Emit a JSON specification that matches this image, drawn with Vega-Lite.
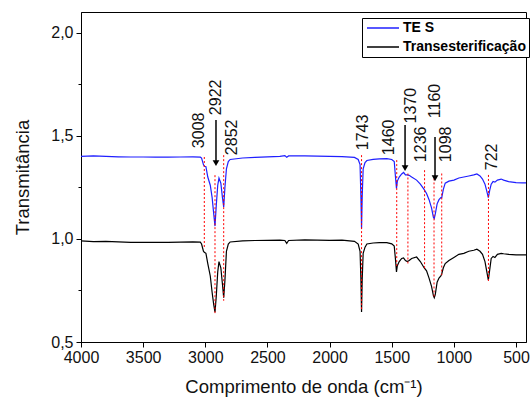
{
  "$schema": "https://vega.github.io/schema/vega-lite/v6.json",
  "width": 445,
  "height": 330,
  "autosize": {"type": "none"},
  "padding": {"left": 81, "top": 12, "right": 5, "bottom": 57},
  "config": {
    "view": {"stroke": "#000", "strokeWidth": 1},
    "font": "Liberation Sans",
    "axis": {
      "domainColor": "#000", "tickColor": "#000", "labelColor": "#111", "titleColor": "#111",
      "labelFont": "Liberation Sans", "titleFont": "Liberation Sans",
      "labelFontSize": 16, "titleFontSize": 18.5, "titleFontWeight": "normal",
      "grid": false
    }
  },
  "datasets": {
    "spectra": [
      {"series": "TE S", "wn": 4000, "t": 1.400}, {"series": "TE S", "wn": 3900, "t": 1.402}, {"series": "TE S", "wn": 3800, "t": 1.400},
      {"series": "TE S", "wn": 3700, "t": 1.398}, {"series": "TE S", "wn": 3600, "t": 1.397}, {"series": "TE S", "wn": 3500, "t": 1.397},
      {"series": "TE S", "wn": 3400, "t": 1.396}, {"series": "TE S", "wn": 3300, "t": 1.396}, {"series": "TE S", "wn": 3200, "t": 1.397},
      {"series": "TE S", "wn": 3100, "t": 1.398}, {"series": "TE S", "wn": 3040, "t": 1.396}, {"series": "TE S", "wn": 3030, "t": 1.392},
      {"series": "TE S", "wn": 3015, "t": 1.36}, {"series": "TE S", "wn": 3008, "t": 1.352}, {"series": "TE S", "wn": 2995, "t": 1.35},
      {"series": "TE S", "wn": 2980, "t": 1.30}, {"series": "TE S", "wn": 2960, "t": 1.26}, {"series": "TE S", "wn": 2945, "t": 1.20},
      {"series": "TE S", "wn": 2932, "t": 1.12}, {"series": "TE S", "wn": 2922, "t": 1.062}, {"series": "TE S", "wn": 2912, "t": 1.16},
      {"series": "TE S", "wn": 2900, "t": 1.26}, {"series": "TE S", "wn": 2890, "t": 1.295}, {"series": "TE S", "wn": 2875, "t": 1.27},
      {"series": "TE S", "wn": 2862, "t": 1.20}, {"series": "TE S", "wn": 2852, "t": 1.155}, {"series": "TE S", "wn": 2842, "t": 1.25},
      {"series": "TE S", "wn": 2830, "t": 1.34}, {"series": "TE S", "wn": 2815, "t": 1.375}, {"series": "TE S", "wn": 2800, "t": 1.385},
      {"series": "TE S", "wn": 2700, "t": 1.392}, {"series": "TE S", "wn": 2600, "t": 1.395}, {"series": "TE S", "wn": 2500, "t": 1.398},
      {"series": "TE S", "wn": 2400, "t": 1.400}, {"series": "TE S", "wn": 2360, "t": 1.404}, {"series": "TE S", "wn": 2345, "t": 1.396},
      {"series": "TE S", "wn": 2330, "t": 1.402}, {"series": "TE S", "wn": 2200, "t": 1.402}, {"series": "TE S", "wn": 2100, "t": 1.401},
      {"series": "TE S", "wn": 2000, "t": 1.400}, {"series": "TE S", "wn": 1900, "t": 1.399}, {"series": "TE S", "wn": 1800, "t": 1.395},
      {"series": "TE S", "wn": 1770, "t": 1.385}, {"series": "TE S", "wn": 1755, "t": 1.36}, {"series": "TE S", "wn": 1748, "t": 1.20},
      {"series": "TE S", "wn": 1743, "t": 1.05}, {"series": "TE S", "wn": 1738, "t": 1.20}, {"series": "TE S", "wn": 1730, "t": 1.34},
      {"series": "TE S", "wn": 1715, "t": 1.37}, {"series": "TE S", "wn": 1700, "t": 1.38}, {"series": "TE S", "wn": 1650, "t": 1.385},
      {"series": "TE S", "wn": 1600, "t": 1.388}, {"series": "TE S", "wn": 1540, "t": 1.389}, {"series": "TE S", "wn": 1500, "t": 1.385},
      {"series": "TE S", "wn": 1480, "t": 1.375}, {"series": "TE S", "wn": 1470, "t": 1.30}, {"series": "TE S", "wn": 1462, "t": 1.245},
      {"series": "TE S", "wn": 1455, "t": 1.28}, {"series": "TE S", "wn": 1440, "t": 1.30}, {"series": "TE S", "wn": 1420, "t": 1.315},
      {"series": "TE S", "wn": 1405, "t": 1.322}, {"series": "TE S", "wn": 1390, "t": 1.31}, {"series": "TE S", "wn": 1375, "t": 1.31},
      {"series": "TE S", "wn": 1360, "t": 1.308}, {"series": "TE S", "wn": 1340, "t": 1.30}, {"series": "TE S", "wn": 1300, "t": 1.285},
      {"series": "TE S", "wn": 1270, "t": 1.265}, {"series": "TE S", "wn": 1240, "t": 1.24}, {"series": "TE S", "wn": 1220, "t": 1.22},
      {"series": "TE S", "wn": 1200, "t": 1.19}, {"series": "TE S", "wn": 1180, "t": 1.15}, {"series": "TE S", "wn": 1165, "t": 1.105},
      {"series": "TE S", "wn": 1158, "t": 1.099}, {"series": "TE S", "wn": 1150, "t": 1.12}, {"series": "TE S", "wn": 1135, "t": 1.17},
      {"series": "TE S", "wn": 1120, "t": 1.19}, {"series": "TE S", "wn": 1105, "t": 1.20}, {"series": "TE S", "wn": 1098, "t": 1.20},
      {"series": "TE S", "wn": 1085, "t": 1.24}, {"series": "TE S", "wn": 1070, "t": 1.27}, {"series": "TE S", "wn": 1040, "t": 1.28},
      {"series": "TE S", "wn": 1000, "t": 1.285}, {"series": "TE S", "wn": 960, "t": 1.295}, {"series": "TE S", "wn": 920, "t": 1.300},
      {"series": "TE S", "wn": 880, "t": 1.305}, {"series": "TE S", "wn": 840, "t": 1.31}, {"series": "TE S", "wn": 815, "t": 1.315},
      {"series": "TE S", "wn": 790, "t": 1.305}, {"series": "TE S", "wn": 770, "t": 1.29}, {"series": "TE S", "wn": 750, "t": 1.265},
      {"series": "TE S", "wn": 735, "t": 1.23}, {"series": "TE S", "wn": 723, "t": 1.20}, {"series": "TE S", "wn": 712, "t": 1.235},
      {"series": "TE S", "wn": 700, "t": 1.265}, {"series": "TE S", "wn": 685, "t": 1.278}, {"series": "TE S", "wn": 670, "t": 1.275},
      {"series": "TE S", "wn": 650, "t": 1.285}, {"series": "TE S", "wn": 620, "t": 1.29}, {"series": "TE S", "wn": 600, "t": 1.285},
      {"series": "TE S", "wn": 560, "t": 1.278}, {"series": "TE S", "wn": 500, "t": 1.273}, {"series": "TE S", "wn": 450, "t": 1.272},
      {"series": "TE S", "wn": 420, "t": 1.272},
      {"series": "Transesterificação", "wn": 4000, "t": 0.990}, {"series": "Transesterificação", "wn": 3900, "t": 0.987}, {"series": "Transesterificação", "wn": 3800, "t": 0.988},
      {"series": "Transesterificação", "wn": 3700, "t": 0.985}, {"series": "Transesterificação", "wn": 3600, "t": 0.983}, {"series": "Transesterificação", "wn": 3500, "t": 0.983},
      {"series": "Transesterificação", "wn": 3400, "t": 0.983}, {"series": "Transesterificação", "wn": 3300, "t": 0.983}, {"series": "Transesterificação", "wn": 3200, "t": 0.984},
      {"series": "Transesterificação", "wn": 3100, "t": 0.985}, {"series": "Transesterificação", "wn": 3040, "t": 0.984}, {"series": "Transesterificação", "wn": 3030, "t": 0.975},
      {"series": "Transesterificação", "wn": 3015, "t": 0.94}, {"series": "Transesterificação", "wn": 3008, "t": 0.935}, {"series": "Transesterificação", "wn": 2995, "t": 0.93},
      {"series": "Transesterificação", "wn": 2980, "t": 0.88}, {"series": "Transesterificação", "wn": 2960, "t": 0.82}, {"series": "Transesterificação", "wn": 2945, "t": 0.74},
      {"series": "Transesterificação", "wn": 2932, "t": 0.68}, {"series": "Transesterificação", "wn": 2922, "t": 0.645}, {"series": "Transesterificação", "wn": 2912, "t": 0.72},
      {"series": "Transesterificação", "wn": 2900, "t": 0.84}, {"series": "Transesterificação", "wn": 2890, "t": 0.89}, {"series": "Transesterificação", "wn": 2875, "t": 0.86},
      {"series": "Transesterificação", "wn": 2862, "t": 0.78}, {"series": "Transesterificação", "wn": 2852, "t": 0.715}, {"series": "Transesterificação", "wn": 2842, "t": 0.80},
      {"series": "Transesterificação", "wn": 2830, "t": 0.94}, {"series": "Transesterificação", "wn": 2815, "t": 0.975}, {"series": "Transesterificação", "wn": 2800, "t": 0.985},
      {"series": "Transesterificação", "wn": 2700, "t": 0.990}, {"series": "Transesterificação", "wn": 2600, "t": 0.992}, {"series": "Transesterificação", "wn": 2500, "t": 0.993},
      {"series": "Transesterificação", "wn": 2400, "t": 0.994}, {"series": "Transesterificação", "wn": 2360, "t": 0.992}, {"series": "Transesterificação", "wn": 2345, "t": 0.978},
      {"series": "Transesterificação", "wn": 2330, "t": 0.992}, {"series": "Transesterificação", "wn": 2200, "t": 0.995}, {"series": "Transesterificação", "wn": 2100, "t": 0.994},
      {"series": "Transesterificação", "wn": 2000, "t": 0.993}, {"series": "Transesterificação", "wn": 1900, "t": 0.994}, {"series": "Transesterificação", "wn": 1800, "t": 0.988},
      {"series": "Transesterificação", "wn": 1770, "t": 0.975}, {"series": "Transesterificação", "wn": 1755, "t": 0.94}, {"series": "Transesterificação", "wn": 1748, "t": 0.80},
      {"series": "Transesterificação", "wn": 1743, "t": 0.645}, {"series": "Transesterificação", "wn": 1738, "t": 0.80}, {"series": "Transesterificação", "wn": 1730, "t": 0.93},
      {"series": "Transesterificação", "wn": 1715, "t": 0.96}, {"series": "Transesterificação", "wn": 1700, "t": 0.975}, {"series": "Transesterificação", "wn": 1650, "t": 0.98},
      {"series": "Transesterificação", "wn": 1600, "t": 0.982}, {"series": "Transesterificação", "wn": 1540, "t": 0.982}, {"series": "Transesterificação", "wn": 1500, "t": 0.976},
      {"series": "Transesterificação", "wn": 1480, "t": 0.965}, {"series": "Transesterificação", "wn": 1470, "t": 0.90}, {"series": "Transesterificação", "wn": 1462, "t": 0.84},
      {"series": "Transesterificação", "wn": 1455, "t": 0.87}, {"series": "Transesterificação", "wn": 1440, "t": 0.89}, {"series": "Transesterificação", "wn": 1420, "t": 0.905},
      {"series": "Transesterificação", "wn": 1405, "t": 0.908}, {"series": "Transesterificação", "wn": 1390, "t": 0.895}, {"series": "Transesterificação", "wn": 1375, "t": 0.89},
      {"series": "Transesterificação", "wn": 1360, "t": 0.895}, {"series": "Transesterificação", "wn": 1340, "t": 0.905}, {"series": "Transesterificação", "wn": 1300, "t": 0.912},
      {"series": "Transesterificação", "wn": 1270, "t": 0.89}, {"series": "Transesterificação", "wn": 1240, "t": 0.86}, {"series": "Transesterificação", "wn": 1220, "t": 0.845},
      {"series": "Transesterificação", "wn": 1200, "t": 0.81}, {"series": "Transesterificação", "wn": 1180, "t": 0.77}, {"series": "Transesterificação", "wn": 1165, "t": 0.725},
      {"series": "Transesterificação", "wn": 1158, "t": 0.715}, {"series": "Transesterificação", "wn": 1150, "t": 0.73}, {"series": "Transesterificação", "wn": 1135, "t": 0.79},
      {"series": "Transesterificação", "wn": 1120, "t": 0.81}, {"series": "Transesterificação", "wn": 1105, "t": 0.82}, {"series": "Transesterificação", "wn": 1098, "t": 0.83},
      {"series": "Transesterificação", "wn": 1085, "t": 0.86}, {"series": "Transesterificação", "wn": 1070, "t": 0.88}, {"series": "Transesterificação", "wn": 1040, "t": 0.895},
      {"series": "Transesterificação", "wn": 1000, "t": 0.91}, {"series": "Transesterificação", "wn": 960, "t": 0.925}, {"series": "Transesterificação", "wn": 920, "t": 0.93},
      {"series": "Transesterificação", "wn": 880, "t": 0.94}, {"series": "Transesterificação", "wn": 840, "t": 0.945}, {"series": "Transesterificação", "wn": 815, "t": 0.95},
      {"series": "Transesterificação", "wn": 790, "t": 0.94}, {"series": "Transesterificação", "wn": 770, "t": 0.925}, {"series": "Transesterificação", "wn": 750, "t": 0.89},
      {"series": "Transesterificação", "wn": 735, "t": 0.84}, {"series": "Transesterificação", "wn": 723, "t": 0.80}, {"series": "Transesterificação", "wn": 712, "t": 0.85},
      {"series": "Transesterificação", "wn": 700, "t": 0.905}, {"series": "Transesterificação", "wn": 685, "t": 0.915}, {"series": "Transesterificação", "wn": 670, "t": 0.91},
      {"series": "Transesterificação", "wn": 650, "t": 0.925}, {"series": "Transesterificação", "wn": 620, "t": 0.93}, {"series": "Transesterificação", "wn": 600, "t": 0.928},
      {"series": "Transesterificação", "wn": 560, "t": 0.925}, {"series": "Transesterificação", "wn": 500, "t": 0.922}, {"series": "Transesterificação", "wn": 450, "t": 0.922},
      {"series": "Transesterificação", "wn": 420, "t": 0.922}
    ],
    "peaks": [
      {"label": "3008", "wn": 3008, "top": 1.397, "bottom": 0.955, "lx": 3051, "ly": 1.44},
      {"label": "2922", "wn": 2922, "top": 1.309, "bottom": 0.64, "lx": 2914, "ly": 1.60},
      {"label": "2852", "wn": 2852, "top": 1.406, "bottom": 0.70, "lx": 2788, "ly": 1.406},
      {"label": "1743", "wn": 1743, "top": 1.406, "bottom": 0.65, "lx": 1731, "ly": 1.43},
      {"label": "1460", "wn": 1460, "top": 1.382, "bottom": 0.864, "lx": 1522, "ly": 1.406},
      {"label": "1370", "wn": 1370, "top": 1.317, "bottom": 0.88, "lx": 1347, "ly": 1.56},
      {"label": "1236", "wn": 1236, "top": 1.333, "bottom": 0.848, "lx": 1267, "ly": 1.372},
      {"label": "1160", "wn": 1160, "top": 1.293, "bottom": 0.718, "lx": 1152, "ly": 1.585},
      {"label": "1098", "wn": 1098, "top": 1.317, "bottom": 0.824, "lx": 1063, "ly": 1.372},
      {"label": "722", "wn": 722, "top": 1.31, "bottom": 0.79, "lx": 696, "ly": 1.333}
    ],
    "arrows": [
      {"wn": 2914, "top": 1.576, "bottom": 1.367},
      {"wn": 1393, "top": 1.552, "bottom": 1.343},
      {"wn": 1152, "top": 1.494, "bottom": 1.294}
    ]
  },
  "layer": [
    {
      "data": {"name": "spectra"},
      "mark": {"type": "line", "strokeWidth": 1.2},
      "encoding": {
        "x": {
          "field": "wn", "type": "quantitative",
          "scale": {"domain": [420, 4000], "reverse": true, "nice": false, "zero": false},
          "axis": {
            "title": "Comprimento de onda (cm⁻¹)",
            "values": [4000, 3750, 3500, 3250, 3000, 2750, 2500, 2250, 2000, 1750, 1500, 1250, 1000, 750, 500],
            "labelExpr": "datum.value % 500 == 0 ? format(datum.value, 'd') : ''",
            "tickSize": {"condition": {"test": "datum.value % 500 == 0", "value": 5}, "value": 3},
            "labelPadding": 2, "titlePadding": 12, "labelFlush": false, "labelOverlap": false
          }
        },
        "y": {
          "field": "t", "type": "quantitative",
          "scale": {"domain": [0.5, 2.1], "nice": false, "zero": false},
          "axis": {
            "title": "Transmitância",
            "values": [0.5, 0.75, 1.0, 1.25, 1.5, 1.75, 2.0],
            "labelExpr": "(datum.value * 2) % 1 == 0 ? replace(format(datum.value, '.1f'), '.', ',') : ''",
            "tickSize": {"condition": {"test": "(datum.value * 2) % 1 == 0", "value": 5}, "value": 3},
            "labelPadding": 3, "titlePadding": 18, "labelFlush": false, "labelOverlap": false
          }
        },
        "color": {
          "field": "series", "type": "nominal",
          "scale": {"domain": ["TE S", "Transesterificação"], "range": ["#1f1fff", "#000000"]},
          "legend": {
            "title": null, "orient": "none", "legendX": 281, "legendY": 6,
            "strokeColor": "#000", "fillColor": "#fff", "padding": 3,
            "labelFontSize": 14, "labelFontWeight": "bold", "labelColor": "#000", "labelLimit": 300,
            "symbolType": "M-1,0H5.4", "symbolSize": 100, "symbolStrokeWidth": 1.5,
            "labelOffset": 24, "rowPadding": 5
          }
        }
      }
    },
    {
      "data": {"name": "peaks"},
      "mark": {"type": "rule", "color": "#ff0000", "strokeDash": [2, 2], "strokeWidth": 1},
      "encoding": {
        "x": {"field": "wn", "type": "quantitative"},
        "y": {"field": "top", "type": "quantitative"},
        "y2": {"field": "bottom"}
      }
    },
    {
      "data": {"name": "peaks"},
      "mark": {"type": "text", "angle": 270, "align": "left", "baseline": "middle", "fontSize": 16, "color": "#111", "font": "Liberation Sans"},
      "encoding": {
        "x": {"field": "lx", "type": "quantitative"},
        "y": {"field": "ly", "type": "quantitative"},
        "text": {"field": "label"}
      }
    },
    {
      "data": {"name": "arrows"},
      "mark": {"type": "rule", "color": "#000", "strokeWidth": 1.5},
      "encoding": {
        "x": {"field": "wn", "type": "quantitative"},
        "y": {"field": "top", "type": "quantitative"},
        "y2": {"field": "bottom"}
      }
    },
    {
      "data": {"name": "arrows"},
      "mark": {"type": "point", "shape": "triangle-down", "filled": true, "color": "#000", "size": 45, "opacity": 1},
      "encoding": {
        "x": {"field": "wn", "type": "quantitative"},
        "y": {"field": "bottom", "type": "quantitative"}
      }
    }
  ]
}
